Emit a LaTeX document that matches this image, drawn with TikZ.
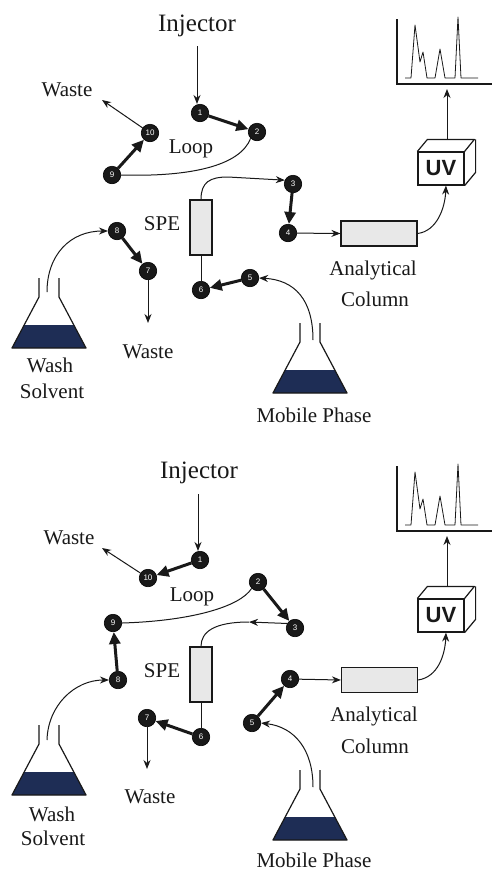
\documentclass[tikz,border=0pt]{standalone}
\usepackage{fontspec}
\setmainfont{Liberation Serif}
\setsansfont{Liberation Sans}
\usetikzlibrary{arrows.meta}
\definecolor{solvent}{RGB}{30,45,85}
\definecolor{ink}{RGB}{25,25,25}

\tikzset{
  port/.style={circle,fill=ink,draw=black,line width=0.6pt,minimum size=17.5pt,inner sep=0pt,
    text=white,font=\sffamily\fontsize{8}{8}\selectfont},
  lbl/.style={font=\fontsize{21}{24}\selectfont,inner sep=0pt,text=ink},
  ttl/.style={font=\fontsize{25}{28}\selectfont,inner sep=0pt,text=ink},
  flow/.style={line width=1pt,draw=ink,-{Stealth[length=9pt,width=7pt]}},
  valve/.style={line width=3pt,draw=ink,-{Triangle[length=12pt,width=11pt]}},
  tube/.style={line width=1pt,draw=ink},
  colbox/.style={draw=ink,line width=1.2pt,fill=black!9,inner sep=0pt},
  uvbox/.style={draw=ink,line width=1.2pt,minimum width=46pt,minimum height=33pt,inner sep=0pt,
    font=\sffamily\bfseries\fontsize{22}{22}\selectfont,text=ink},
  flask/.pic={
    \fill[solvent] (-37,70) -- (37,70) -- (24.8,47) -- (-24.8,47) -- cycle;
    \draw[line width=1.2pt,draw=ink,line join=round] (-10,0) -- (-10,19) -- (-37,70) -- (37,70) -- (10,19) -- (10,0);
  },
  trace/.pic={
    \draw[line width=1.4pt,draw=ink] (397,19) -- (397,84) -- (492,84);
    \draw[line width=0.8pt,draw=ink,line join=round] (405,78) -- (411,78) -- (415,25) -- (420,62) -- (423,52)
      -- (427,78) -- (435,78) -- (440,49) -- (445,78) -- (455,78) -- (458,17) -- (461,78) -- (478,78);
  },
}

\begin{document}
\begin{tikzpicture}[x=1pt,y=-1pt]
\fill[white] (0,0) rectangle (493,871);
\useasboundingbox (0,0) rectangle (493,871);

% ---------------- loading position ----------------
\node[ttl] (tinj) at (197,26) {Injector};
\coordinate (tinjA) at (197,46);
\node[port] (t1) at (200,113) {1};
\node[port] (t2) at (257,132) {2};
\node[port] (t3) at (293,184) {3};
\node[port] (t4) at (288,233) {4};
\node[port] (t5) at (250,278) {5};
\node[port] (t6) at (201,290) {6};
\node[port] (t7) at (148,271) {7};
\node[port] (t8) at (117,231) {8};
\node[port] (t9) at (112,175) {9};
\node[port] (t10) at (150,133) {10};

\node[lbl] (twasteA) at (67,90) {Waste};
\coordinate (twasteAtip) at (102,100);
\node[lbl] (tloop) at (191,149) {Loop};
\node[colbox,minimum width=22pt,minimum height=55pt] (tspe) at (201,227.5) {};
\node[lbl] (tspel) at (162,224) {SPE};
\node[colbox,minimum width=76pt,minimum height=25pt] (tcol) at (379,233.5) {};
\node[lbl] (tana) at (373,270) {Analytical};
\node[lbl] (tcoll) at (375,299) {Column};
\node[lbl] (twasteB) at (148,352) {Waste};
\coordinate (twasteBtip) at (148,323);
\node[lbl] (twash) at (50,365) {Wash};
\node[lbl] (tsolv) at (52,391) {Solvent};
\node[lbl] (tmobl) at (314,415) {Mobile Phase};

\pic at (49,278) {flask};
\coordinate (twashmouth) at (47,292);
\pic at (310,323) {flask};
\coordinate (tmobmouth) at (313,340);

\node[uvbox] (tuv) at (441,168.5) {UV};
\draw[line width=1.2pt,draw=ink,line join=round] (tuv.north west) -- ++(10,-12) -- ++(47,0) -- (tuv.north east);
\draw[line width=1.2pt,draw=ink,line join=round] (tuv.north east) ++(11,-12) -- ++(0,33) -- (tuv.south east);
\coordinate (tuvtop) at (447,139);
\coordinate (tchr) at (447,89);
\pic {trace};

\draw[flow] (tinjA) -- (tinjA |- t1.north);
\draw[valve] (t1) -- (t2);
\draw[tube] (t9.east) .. controls (190,177) and (240,166) .. (t2.south west);
\draw[valve] (t9) -- (t10);
\draw[flow] (t10) -- (twasteAtip);
\draw[flow] (tspe.north) .. controls (201,182) and (210,177) .. (228,177) -- (t3.155);
\draw[valve] (t3) -- (t4);
\draw[flow] (t4) -- (tcol.west);
\draw[flow] (tcol.east) .. controls (437,231) and (445,208) .. ([xshift=5pt]tuv.south);
\draw[flow] (tuvtop) -- (tchr);
\draw[flow] (tmobmouth) .. controls (313,300) and (295,280) .. (t5.east);
\draw[valve] (t5) -- (t6);
\draw[tube] (tspe.south) -- (t6);
\draw[flow] (twashmouth) .. controls (47,255) and (70,231) .. (t8.west);
\draw[valve] (t8) -- (t7);
\draw[flow] (t7) -- (twasteBtip);

% ---------------- injection position ----------------
\node[ttl] (binj) at (199,473) {Injector};
\coordinate (binjA) at (198,494);
\node[port] (b1) at (200,560) {1};
\node[port] (b2) at (258,582) {2};
\node[port] (b3) at (295,628) {3};
\node[port] (b4) at (290,679) {4};
\node[port] (b5) at (252,723) {5};
\node[port] (b6) at (201,737) {6};
\node[port] (b7) at (147,718) {7};
\node[port] (b8) at (118,680) {8};
\node[port] (b9) at (113,623) {9};
\node[port] (b10) at (148,578) {10};

\node[lbl] (bwasteA) at (69,538) {Waste};
\coordinate (bwasteAtip) at (102,548);
\node[lbl] (bloop) at (192,597) {Loop};
\node[colbox,minimum width=22pt,minimum height=55pt] (bspe) at (201,674.5) {};
\node[lbl] (bspel) at (162,671) {SPE};
\node[colbox,minimum width=76pt,minimum height=25pt] (bcol) at (379.5,680) {};
\node[lbl] (bana) at (374,716) {Analytical};
\node[lbl] (bcoll) at (375,746) {Column};
\node[lbl] (bwasteB) at (150,797) {Waste};
\coordinate (bwasteBtip) at (147,769);
\node[lbl] (bwash) at (52,814) {Wash};
\node[lbl] (bsolv) at (53,838) {Solvent};
\node[lbl] (bmobl) at (314,860) {Mobile Phase};
\coordinate (bmid) at (249,622);

\pic at (49,725) {flask};
\coordinate (bwashmouth) at (47,740);
\pic at (310,770) {flask};
\coordinate (bmobmouth) at (313,787);

\node[uvbox] (buv) at (441,615.5) {UV};
\draw[line width=1.2pt,draw=ink,line join=round] (buv.north west) -- ++(10,-12) -- ++(47,0) -- (buv.north east);
\draw[line width=1.2pt,draw=ink,line join=round] (buv.north east) ++(11,-12) -- ++(0,33) -- (buv.south east);
\coordinate (buvtop) at (447,586);
\coordinate (bchr) at (447,536);
\begin{scope}[shift={(0,447)}]
  \pic {trace};
\end{scope}

\draw[flow] (binjA) -- (binjA |- b1.north);
\draw[valve] (b1) -- (b10);
\draw[flow] (b10) -- (bwasteAtip);
\draw[tube] (b9.east) .. controls (190,621) and (240,607) .. (b2.south west);
\draw[valve] (b2) -- (b3);
\draw[flow] (b3.150) -- (bmid);
\draw[tube] (bmid) .. controls (214,622) and (201,632) .. (bspe.north);
\draw[tube] (bspe.south) -- (b6);
\draw[valve] (b6) -- (b7);
\draw[flow] (b7) -- (bwasteBtip);
\draw[valve] (b8) -- (b9);
\draw[flow] (bwashmouth) .. controls (48,705) and (75,680) .. (b8.west);
\draw[valve] (b5) -- (b4);
\draw[flow] (b4) -- (bcol.west);
\draw[flow] (bmobmouth) .. controls (313,750) and (295,727) .. (b5.east);
\draw[flow] (bcol.east) .. controls (438,677) and (445,655) .. ([xshift=5pt]buv.south);
\draw[flow] (buvtop) -- (bchr);
\end{tikzpicture}
\end{document}
